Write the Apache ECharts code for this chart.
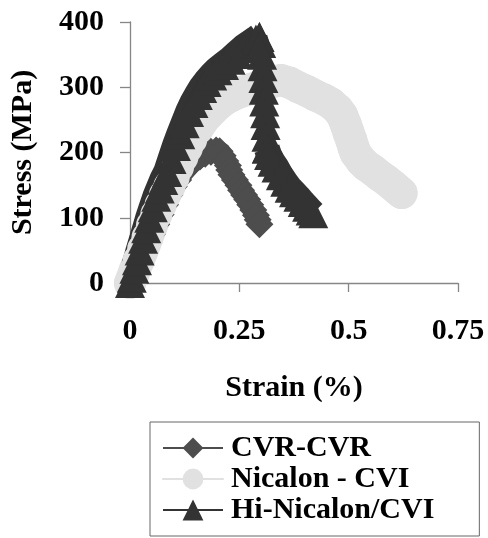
<!DOCTYPE html>
<html>
<head>
<meta charset="utf-8">
<script src="https://cdn.jsdelivr.net/npm/echarts@6/dist/echarts.min.js"></script>
<style>html,body{margin:0;padding:0;background:#fff;}#c{width:488px;height:538px;}</style>
</head>
<body>
<div id="c"></div>
<script>
// ---- data ----
var seriesNames = ['CVR-CVR', 'Nicalon - CVI', 'Hi-Nicalon/CVI'];
var xTicks = [0, 0.25, 0.5, 0.75];
var yTicks = [0, 100, 200, 300, 400];

var cvrStrain = [0.000,0.010,0.020,0.030,0.040,0.050,0.060,0.070,0.080,0.090,0.100,0.110,0.122,0.135,0.148,0.160,0.172,0.185,0.197,0.205,
                 0.212,0.218,0.224,0.227,0.232,0.240,0.248,0.254,0.261,0.268,0.275,0.282,0.288,0.292,0.296];
var cvrStress = [0,15,30,45,60,75,90,105,120,135,148,158,170,180,188,194,198,201,203,202,
                 195,187,180,173,166,158,150,142,135,128,120,112,104,97,90];

var nicStrain = [0.000,0.010,0.020,0.030,0.040,0.050,0.060,0.070,0.080,0.090,0.100,0.110,0.120,0.130,0.140,0.155,0.170,0.190,0.210,0.230,0.250,0.280,0.310,0.330,0.345,
                 0.365,0.385,0.405,0.425,0.445,0.460,0.475,0.485,0.494,0.500,0.506,0.511,0.516,0.528,0.540,0.555,0.570,0.585,0.600,0.612,0.621];
var nicStress = [0,18,35,52,70,88,105,120,135,148,162,178,193,207,220,237,252,266,278,286,292,298,305,309,311,
                 307,300,294,287,281,275,266,257,242,230,219,208,199,188,180,173,165,158,150,143,138];

// Hi-Nicalon/CVI: loading branch, near-vertical drop at the peak, and the tail
var hiRiseStrain = [0.000,0.004,0.010,0.016,0.022,0.030,0.037,0.044,0.052,0.060,0.068,0.076,0.085,0.095,0.105,0.115,0.125,0.135,0.145,0.155,0.165,0.175,0.188,0.200,0.215,0.230,0.245,0.260,0.275,0.288,0.296];
var hiRiseStress = [0,8,22,35,50,68,84,100,116,132,145,158,170,190,210,228,245,262,276,288,299,308,318,326,334,342,351,360,367,373,377];
var hiDropStrain = [0.296,0.300,0.302,0.303,0.305,0.306,0.307,0.309,0.310,0.312,0.313];
var hiDropStress = [377,368,350,332,314,296,278,260,242,224,206];
var hiTailStrain = [0.313,0.318,0.326,0.335,0.345,0.355,0.365,0.375,0.385,0.395,0.405,0.413,0.419];
var hiTailStress = [206,196,186,177,165,155,146,139,132,124,117,111,107];

// build data items; marker size on the plot is given per item so the
// series-level size (used by the legend icon) can stay small
function items(xs, ys, markerSize) {
  return xs.map(function (x, i) { return {value: [x, ys[i]], symbolSize: markerSize}; });
}

var FONT = 'Liberation Serif';
var AXIS_COLOR = '#868686';
var C_CVR = '#4d4d4d', C_NIC = '#e1e1e1', C_HI = '#333333';
var LEGEND_SYMBOL = 21;

function hiSeries(data, width) {
  return {
    name: seriesNames[2], type: 'line', data: data,
    symbol: 'triangle', symbolSize: LEGEND_SYMBOL, showAllSymbol: true, clip: false,
    lineStyle: {color: C_HI, width: width, join: 'bevel', cap: 'butt'},
    itemStyle: {color: C_HI, borderWidth: 0}
  };
}

var chart = echarts.init(document.getElementById('c'), null, {renderer: 'canvas'});
chart.setOption({
  animation: false,
  backgroundColor: '#ffffff',
  grid: {left: 128, right: 30, top: 22, bottom: 255, containLabel: false},
  xAxis: {
    type: 'value', min: xTicks[0], max: xTicks[xTicks.length - 1], interval: xTicks[1] - xTicks[0],
    name: 'Strain (%)', nameLocation: 'middle', nameGap: 90,
    nameTextStyle: {fontFamily: FONT, fontWeight: 'bold', fontSize: 30, color: '#000'},
    axisLine: {show: true, lineStyle: {color: AXIS_COLOR, width: 1.3}},
    axisTick: {show: true, inside: false, length: 9, lineStyle: {color: AXIS_COLOR, width: 1.3}},
    axisLabel: {margin: 33, fontFamily: FONT, fontWeight: 'bold', fontSize: 30, color: '#000'},
    splitLine: {show: false}
  },
  yAxis: {
    type: 'value', min: yTicks[0], max: yTicks[yTicks.length - 1], interval: yTicks[1] - yTicks[0],
    name: 'Stress (MPa)', nameLocation: 'middle', nameGap: 92,
    nameTextStyle: {fontFamily: FONT, fontWeight: 'bold', fontSize: 30, color: '#000'},
    axisLine: {show: true, lineStyle: {color: AXIS_COLOR, width: 1.3}},
    axisTick: {show: true, inside: false, length: 10, lineStyle: {color: AXIS_COLOR, width: 1.3}},
    axisLabel: {margin: 26, fontFamily: FONT, fontWeight: 'bold', fontSize: 30, color: '#000'},
    splitLine: {show: false}
  },
  legend: {
    orient: 'vertical', left: 150, top: 422,
    padding: [11, 45, 11, 12],
    borderColor: '#666', borderWidth: 1,
    itemWidth: 60, itemHeight: 26, itemGap: 1,
    lineStyle: {width: 2},
    itemStyle: {borderWidth: 0},
    textStyle: {fontFamily: FONT, fontWeight: 'bold', fontSize: 30, color: '#000', padding: [0, 0, 0, 3]},
    data: seriesNames
  },
  series: [
    {
      name: seriesNames[0], type: 'line', data: items(cvrStrain, cvrStress, 28),
      symbol: 'diamond', symbolSize: LEGEND_SYMBOL, showAllSymbol: true, clip: false,
      lineStyle: {color: C_CVR, width: 21, join: 'bevel', cap: 'butt'},
      itemStyle: {color: C_CVR, borderWidth: 0}
    },
    {
      name: seriesNames[1], type: 'line', data: items(nicStrain, nicStress, 32),
      symbol: 'circle', symbolSize: LEGEND_SYMBOL, showAllSymbol: true, clip: false,
      lineStyle: {color: C_NIC, width: 32, join: 'round', cap: 'round'},
      itemStyle: {color: C_NIC, borderWidth: 0}
    },
    hiSeries(items(hiRiseStrain, hiRiseStress, 30), 28),
    hiSeries(items(hiDropStrain, hiDropStress, 30), 16),
    hiSeries(items(hiTailStrain, hiTailStress, 30), 26)
  ]
});
</script>
</body>
</html>
